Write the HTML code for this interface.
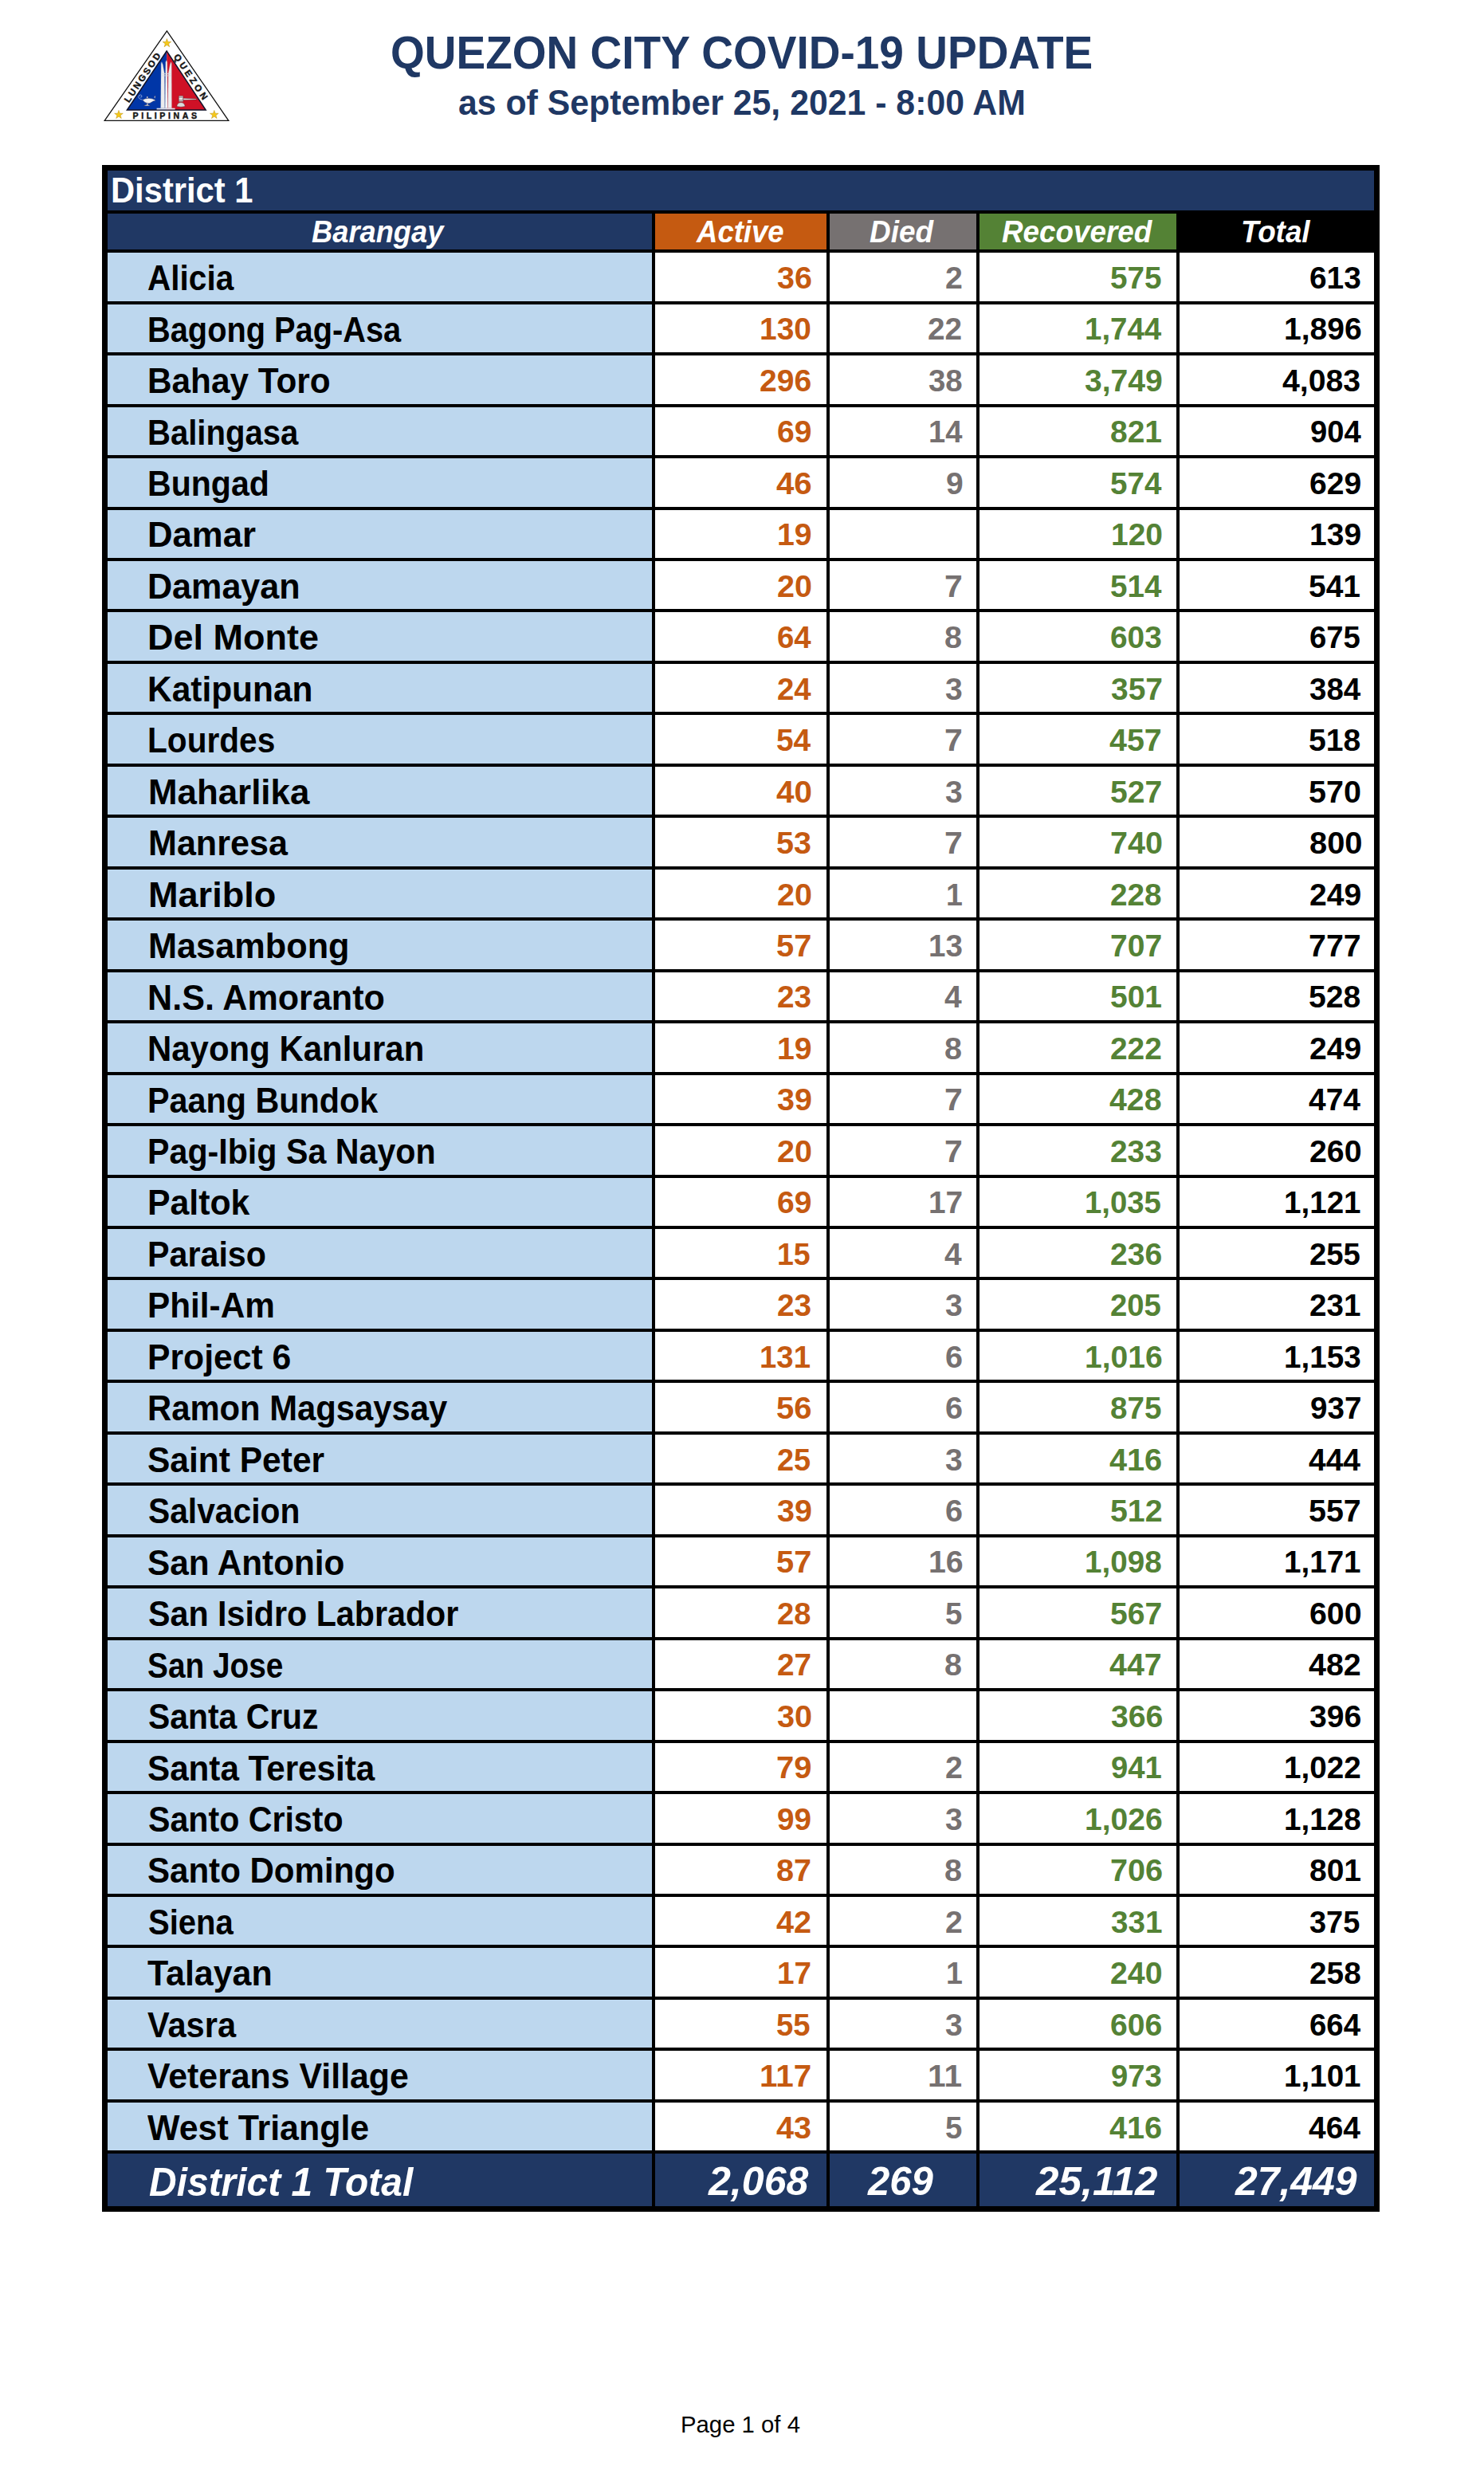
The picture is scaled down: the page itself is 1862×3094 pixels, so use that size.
<!DOCTYPE html>
<html lang="en"><head><meta charset="utf-8"><title>Quezon City COVID-19 Update - District 1</title>
<style>
html,body{margin:0;padding:0;background:#fff}
body{width:1862px;height:3094px;position:relative;overflow:hidden;font-family:"Liberation Sans",sans-serif}
.a{position:absolute}
.t{position:absolute;white-space:nowrap;line-height:1;font-weight:bold;transform-origin:0 50%}
.n{font-size:45.0px;color:#000}
.v{font-size:39.3px}
.o{color:#C55A11}.g{color:#767171}.r{color:#548235}.k{color:#000}
.T{font-size:50.0px;font-style:italic;color:#fff}
.h{font-size:38.8px;font-style:italic;color:#fff}
</style></head><body>
<div class="t" style="font-size:58.2px;color:#1F3864;left:489.98px;top:37px;transform:scaleX(0.9454)">QUEZON CITY COVID-19 UPDATE</div>
<div class="t" style="font-size:44.3px;color:#1F3864;left:574.63px;top:107px;transform:scaleX(0.9659)">as of September 25, 2021 - 8:00 AM</div>
<svg class="a" style="left:120px;top:30px" width="180" height="130" viewBox="120 30 180 130" font-family="Liberation Sans, sans-serif" font-weight="bold">
<polygon points="209.4,38.8 131.2,151.4 286.8,151.4" fill="#fff" stroke="#111" stroke-width="1.3" stroke-linejoin="miter"/>
<polygon points="209.2,64.2 209.2,138 159.6,138" fill="#0036A7"/>
<polygon points="209.2,64.2 209.2,138 258,138" fill="#CF1126"/>
<polygon points="209.2,64 159.4,138 258.2,138" fill="none" stroke="#12122a" stroke-width="1.5"/>
<g fill="#F6C818" stroke="#B8901A" stroke-width="0.5">
<polygon points="0,-5.6 1.32,-1.82 5.33,-1.73 2.13,0.69 3.29,4.53 0,2.24 -3.29,4.53 -2.13,0.69 -5.33,-1.73 -1.32,-1.82" transform="translate(209.4,54.2)"/>
<polygon points="0,-5.6 1.32,-1.82 5.33,-1.73 2.13,0.69 3.29,4.53 0,2.24 -3.29,4.53 -2.13,0.69 -5.33,-1.73 -1.32,-1.82" transform="translate(149,144)"/>
<polygon points="0,-5.6 1.32,-1.82 5.33,-1.73 2.13,0.69 3.29,4.53 0,2.24 -3.29,4.53 -2.13,0.69 -5.33,-1.73 -1.32,-1.82" transform="translate(268.8,144)"/>
</g>
<g fill="#161616" stroke="#161616" stroke-width="0.45">
<text x="206.8" y="148.9" font-size="10.6" text-anchor="middle" textLength="80.5" lengthAdjust="spacing">PILIPINAS</text>
<text transform="translate(181.9,99.6) rotate(-56.1)" x="0" y="0" font-size="11.4" text-anchor="middle" textLength="72" lengthAdjust="spacing">LUNGSOD</text>
<text transform="translate(236.1,98.5) rotate(56.1)" x="0" y="0" font-size="11.4" text-anchor="middle" textLength="66.5" lengthAdjust="spacing">QUEZON</text>
</g>
<g fill="#ececee" stroke="#b9b9c2" stroke-width="0.35">
<polygon points="201.7,135.8 202.2,80 202.9,77.8 204.3,81 206.3,92 206.7,135.8"/>
<polygon points="210.8,135.8 211.2,92 213.4,81 214.6,77.8 215.2,80 215.4,135.8"/>
<polygon points="207.2,135.8 207.9,78 208.8,75.8 209.7,78 210.3,135.8" fill="#f7f7f8"/>
<path d="M203.2,92.6 h11 M203,95 h11.4" stroke="#d9d9e0" stroke-width="0.8" fill="none"/>
<rect x="196.6" y="135.7" width="23" height="1.7" stroke="none" fill="#e4e4ec"/>
</g>
<g fill="#f2f2f4" stroke="#1a1f4a" stroke-width="0.4">
<path d="M178.8,125.2 q3.4,-1.8 8,-1.9 q4.6,0.2 7.6,2 l0.8,0.9 q-3.6,0.6 -5,2 q-2,1.6 -4.6,1.6 q-4,-0.6 -6.8,-4.6z"/>
<path d="M180.4,132.4 q4.2,-1.9 8.2,0 q-4.2,1 -8.2,0z"/>
<path d="M184,130 h1.8 v1.7 h-1.8z" stroke-width="0.25"/>
<path d="M184,123.2 v-2.2 h1.5 v2.2z" stroke-width="0.25"/>
<path d="M194.1,123.8 q-1,-2.4 0.3,-4.4 q1,2.4 -0.3,4.4z" stroke-width="0.25"/>
<path d="M178.8,125.2 q-4.6,-0.6 -5,-3.6 q0.4,-2.8 2.8,-2.6 q2,0.6 1.2,2.6 q-1,1 -1.8,0" fill="none" stroke="#dfe3f6" stroke-width="0.55"/>
</g>
<g fill="#e9e9ea" stroke="#40141c" stroke-width="0.4">
<rect x="224.3" y="120.2" width="5.6" height="7.4" rx="0.9"/>
<path d="M224.3,122 h5.6 M224.3,125.8 h5.6" stroke="#5a3a3e" stroke-width="0.7" fill="none"/>
<path d="M229.9,123.2 l16.6,0.9 l0,1 l-16.6,0.3z"/>
<path d="M221.8,133.4 q0.8,-4.6 5.2,-4.8 q4.4,0.2 5.2,4.8 q-5.2,1.6 -10.4,0z" fill="#dcdcdc"/>
</g>
</svg>
<div class="a" style="left:128px;top:207px;width:1603px;height:2568px;background:#000"></div>
<div class="a" style="left:135px;top:214px;width:1589px;height:50px;background:#203864"></div>
<div class="t" style="font-size:45.2px;color:#fff;left:138.74px;top:216px;transform:scaleX(0.9226)">District 1</div>
<div class="a" style="left:135px;top:268px;width:683px;height:45px;background:#203864"></div>
<div class="a" style="left:822px;top:268px;width:215px;height:45px;background:#C55A11"></div>
<div class="a" style="left:1041px;top:268px;width:184px;height:45px;background:#767171"></div>
<div class="a" style="left:1229px;top:268px;width:247px;height:45px;background:#548235"></div>
<div class="a" style="left:1480px;top:268px;width:244px;height:45px;background:#000"></div>
<div class="a" style="left:135px;top:317px;width:683px;height:61px;background:#BDD7EE"></div>
<div class="a" style="left:822px;top:317px;width:215px;height:61px;background:#fff"></div>
<div class="a" style="left:1041px;top:317px;width:184px;height:61px;background:#fff"></div>
<div class="a" style="left:1229px;top:317px;width:247px;height:61px;background:#fff"></div>
<div class="a" style="left:1480px;top:317px;width:244px;height:61px;background:#fff"></div>
<div class="a" style="left:135px;top:382px;width:683px;height:60px;background:#BDD7EE"></div>
<div class="a" style="left:822px;top:382px;width:215px;height:60px;background:#fff"></div>
<div class="a" style="left:1041px;top:382px;width:184px;height:60px;background:#fff"></div>
<div class="a" style="left:1229px;top:382px;width:247px;height:60px;background:#fff"></div>
<div class="a" style="left:1480px;top:382px;width:244px;height:60px;background:#fff"></div>
<div class="a" style="left:135px;top:446px;width:683px;height:61px;background:#BDD7EE"></div>
<div class="a" style="left:822px;top:446px;width:215px;height:61px;background:#fff"></div>
<div class="a" style="left:1041px;top:446px;width:184px;height:61px;background:#fff"></div>
<div class="a" style="left:1229px;top:446px;width:247px;height:61px;background:#fff"></div>
<div class="a" style="left:1480px;top:446px;width:244px;height:61px;background:#fff"></div>
<div class="a" style="left:135px;top:511px;width:683px;height:60px;background:#BDD7EE"></div>
<div class="a" style="left:822px;top:511px;width:215px;height:60px;background:#fff"></div>
<div class="a" style="left:1041px;top:511px;width:184px;height:60px;background:#fff"></div>
<div class="a" style="left:1229px;top:511px;width:247px;height:60px;background:#fff"></div>
<div class="a" style="left:1480px;top:511px;width:244px;height:60px;background:#fff"></div>
<div class="a" style="left:135px;top:575px;width:683px;height:61px;background:#BDD7EE"></div>
<div class="a" style="left:822px;top:575px;width:215px;height:61px;background:#fff"></div>
<div class="a" style="left:1041px;top:575px;width:184px;height:61px;background:#fff"></div>
<div class="a" style="left:1229px;top:575px;width:247px;height:61px;background:#fff"></div>
<div class="a" style="left:1480px;top:575px;width:244px;height:61px;background:#fff"></div>
<div class="a" style="left:135px;top:640px;width:683px;height:60px;background:#BDD7EE"></div>
<div class="a" style="left:822px;top:640px;width:215px;height:60px;background:#fff"></div>
<div class="a" style="left:1041px;top:640px;width:184px;height:60px;background:#fff"></div>
<div class="a" style="left:1229px;top:640px;width:247px;height:60px;background:#fff"></div>
<div class="a" style="left:1480px;top:640px;width:244px;height:60px;background:#fff"></div>
<div class="a" style="left:135px;top:704px;width:683px;height:60px;background:#BDD7EE"></div>
<div class="a" style="left:822px;top:704px;width:215px;height:60px;background:#fff"></div>
<div class="a" style="left:1041px;top:704px;width:184px;height:60px;background:#fff"></div>
<div class="a" style="left:1229px;top:704px;width:247px;height:60px;background:#fff"></div>
<div class="a" style="left:1480px;top:704px;width:244px;height:60px;background:#fff"></div>
<div class="a" style="left:135px;top:768px;width:683px;height:61px;background:#BDD7EE"></div>
<div class="a" style="left:822px;top:768px;width:215px;height:61px;background:#fff"></div>
<div class="a" style="left:1041px;top:768px;width:184px;height:61px;background:#fff"></div>
<div class="a" style="left:1229px;top:768px;width:247px;height:61px;background:#fff"></div>
<div class="a" style="left:1480px;top:768px;width:244px;height:61px;background:#fff"></div>
<div class="a" style="left:135px;top:833px;width:683px;height:60px;background:#BDD7EE"></div>
<div class="a" style="left:822px;top:833px;width:215px;height:60px;background:#fff"></div>
<div class="a" style="left:1041px;top:833px;width:184px;height:60px;background:#fff"></div>
<div class="a" style="left:1229px;top:833px;width:247px;height:60px;background:#fff"></div>
<div class="a" style="left:1480px;top:833px;width:244px;height:60px;background:#fff"></div>
<div class="a" style="left:135px;top:897px;width:683px;height:61px;background:#BDD7EE"></div>
<div class="a" style="left:822px;top:897px;width:215px;height:61px;background:#fff"></div>
<div class="a" style="left:1041px;top:897px;width:184px;height:61px;background:#fff"></div>
<div class="a" style="left:1229px;top:897px;width:247px;height:61px;background:#fff"></div>
<div class="a" style="left:1480px;top:897px;width:244px;height:61px;background:#fff"></div>
<div class="a" style="left:135px;top:962px;width:683px;height:60px;background:#BDD7EE"></div>
<div class="a" style="left:822px;top:962px;width:215px;height:60px;background:#fff"></div>
<div class="a" style="left:1041px;top:962px;width:184px;height:60px;background:#fff"></div>
<div class="a" style="left:1229px;top:962px;width:247px;height:60px;background:#fff"></div>
<div class="a" style="left:1480px;top:962px;width:244px;height:60px;background:#fff"></div>
<div class="a" style="left:135px;top:1026px;width:683px;height:61px;background:#BDD7EE"></div>
<div class="a" style="left:822px;top:1026px;width:215px;height:61px;background:#fff"></div>
<div class="a" style="left:1041px;top:1026px;width:184px;height:61px;background:#fff"></div>
<div class="a" style="left:1229px;top:1026px;width:247px;height:61px;background:#fff"></div>
<div class="a" style="left:1480px;top:1026px;width:244px;height:61px;background:#fff"></div>
<div class="a" style="left:135px;top:1091px;width:683px;height:60px;background:#BDD7EE"></div>
<div class="a" style="left:822px;top:1091px;width:215px;height:60px;background:#fff"></div>
<div class="a" style="left:1041px;top:1091px;width:184px;height:60px;background:#fff"></div>
<div class="a" style="left:1229px;top:1091px;width:247px;height:60px;background:#fff"></div>
<div class="a" style="left:1480px;top:1091px;width:244px;height:60px;background:#fff"></div>
<div class="a" style="left:135px;top:1155px;width:683px;height:61px;background:#BDD7EE"></div>
<div class="a" style="left:822px;top:1155px;width:215px;height:61px;background:#fff"></div>
<div class="a" style="left:1041px;top:1155px;width:184px;height:61px;background:#fff"></div>
<div class="a" style="left:1229px;top:1155px;width:247px;height:61px;background:#fff"></div>
<div class="a" style="left:1480px;top:1155px;width:244px;height:61px;background:#fff"></div>
<div class="a" style="left:135px;top:1220px;width:683px;height:60px;background:#BDD7EE"></div>
<div class="a" style="left:822px;top:1220px;width:215px;height:60px;background:#fff"></div>
<div class="a" style="left:1041px;top:1220px;width:184px;height:60px;background:#fff"></div>
<div class="a" style="left:1229px;top:1220px;width:247px;height:60px;background:#fff"></div>
<div class="a" style="left:1480px;top:1220px;width:244px;height:60px;background:#fff"></div>
<div class="a" style="left:135px;top:1284px;width:683px;height:61px;background:#BDD7EE"></div>
<div class="a" style="left:822px;top:1284px;width:215px;height:61px;background:#fff"></div>
<div class="a" style="left:1041px;top:1284px;width:184px;height:61px;background:#fff"></div>
<div class="a" style="left:1229px;top:1284px;width:247px;height:61px;background:#fff"></div>
<div class="a" style="left:1480px;top:1284px;width:244px;height:61px;background:#fff"></div>
<div class="a" style="left:135px;top:1349px;width:683px;height:60px;background:#BDD7EE"></div>
<div class="a" style="left:822px;top:1349px;width:215px;height:60px;background:#fff"></div>
<div class="a" style="left:1041px;top:1349px;width:184px;height:60px;background:#fff"></div>
<div class="a" style="left:1229px;top:1349px;width:247px;height:60px;background:#fff"></div>
<div class="a" style="left:1480px;top:1349px;width:244px;height:60px;background:#fff"></div>
<div class="a" style="left:135px;top:1413px;width:683px;height:61px;background:#BDD7EE"></div>
<div class="a" style="left:822px;top:1413px;width:215px;height:61px;background:#fff"></div>
<div class="a" style="left:1041px;top:1413px;width:184px;height:61px;background:#fff"></div>
<div class="a" style="left:1229px;top:1413px;width:247px;height:61px;background:#fff"></div>
<div class="a" style="left:1480px;top:1413px;width:244px;height:61px;background:#fff"></div>
<div class="a" style="left:135px;top:1478px;width:683px;height:60px;background:#BDD7EE"></div>
<div class="a" style="left:822px;top:1478px;width:215px;height:60px;background:#fff"></div>
<div class="a" style="left:1041px;top:1478px;width:184px;height:60px;background:#fff"></div>
<div class="a" style="left:1229px;top:1478px;width:247px;height:60px;background:#fff"></div>
<div class="a" style="left:1480px;top:1478px;width:244px;height:60px;background:#fff"></div>
<div class="a" style="left:135px;top:1542px;width:683px;height:60px;background:#BDD7EE"></div>
<div class="a" style="left:822px;top:1542px;width:215px;height:60px;background:#fff"></div>
<div class="a" style="left:1041px;top:1542px;width:184px;height:60px;background:#fff"></div>
<div class="a" style="left:1229px;top:1542px;width:247px;height:60px;background:#fff"></div>
<div class="a" style="left:1480px;top:1542px;width:244px;height:60px;background:#fff"></div>
<div class="a" style="left:135px;top:1606px;width:683px;height:61px;background:#BDD7EE"></div>
<div class="a" style="left:822px;top:1606px;width:215px;height:61px;background:#fff"></div>
<div class="a" style="left:1041px;top:1606px;width:184px;height:61px;background:#fff"></div>
<div class="a" style="left:1229px;top:1606px;width:247px;height:61px;background:#fff"></div>
<div class="a" style="left:1480px;top:1606px;width:244px;height:61px;background:#fff"></div>
<div class="a" style="left:135px;top:1671px;width:683px;height:60px;background:#BDD7EE"></div>
<div class="a" style="left:822px;top:1671px;width:215px;height:60px;background:#fff"></div>
<div class="a" style="left:1041px;top:1671px;width:184px;height:60px;background:#fff"></div>
<div class="a" style="left:1229px;top:1671px;width:247px;height:60px;background:#fff"></div>
<div class="a" style="left:1480px;top:1671px;width:244px;height:60px;background:#fff"></div>
<div class="a" style="left:135px;top:1735px;width:683px;height:61px;background:#BDD7EE"></div>
<div class="a" style="left:822px;top:1735px;width:215px;height:61px;background:#fff"></div>
<div class="a" style="left:1041px;top:1735px;width:184px;height:61px;background:#fff"></div>
<div class="a" style="left:1229px;top:1735px;width:247px;height:61px;background:#fff"></div>
<div class="a" style="left:1480px;top:1735px;width:244px;height:61px;background:#fff"></div>
<div class="a" style="left:135px;top:1800px;width:683px;height:60px;background:#BDD7EE"></div>
<div class="a" style="left:822px;top:1800px;width:215px;height:60px;background:#fff"></div>
<div class="a" style="left:1041px;top:1800px;width:184px;height:60px;background:#fff"></div>
<div class="a" style="left:1229px;top:1800px;width:247px;height:60px;background:#fff"></div>
<div class="a" style="left:1480px;top:1800px;width:244px;height:60px;background:#fff"></div>
<div class="a" style="left:135px;top:1864px;width:683px;height:61px;background:#BDD7EE"></div>
<div class="a" style="left:822px;top:1864px;width:215px;height:61px;background:#fff"></div>
<div class="a" style="left:1041px;top:1864px;width:184px;height:61px;background:#fff"></div>
<div class="a" style="left:1229px;top:1864px;width:247px;height:61px;background:#fff"></div>
<div class="a" style="left:1480px;top:1864px;width:244px;height:61px;background:#fff"></div>
<div class="a" style="left:135px;top:1929px;width:683px;height:60px;background:#BDD7EE"></div>
<div class="a" style="left:822px;top:1929px;width:215px;height:60px;background:#fff"></div>
<div class="a" style="left:1041px;top:1929px;width:184px;height:60px;background:#fff"></div>
<div class="a" style="left:1229px;top:1929px;width:247px;height:60px;background:#fff"></div>
<div class="a" style="left:1480px;top:1929px;width:244px;height:60px;background:#fff"></div>
<div class="a" style="left:135px;top:1993px;width:683px;height:61px;background:#BDD7EE"></div>
<div class="a" style="left:822px;top:1993px;width:215px;height:61px;background:#fff"></div>
<div class="a" style="left:1041px;top:1993px;width:184px;height:61px;background:#fff"></div>
<div class="a" style="left:1229px;top:1993px;width:247px;height:61px;background:#fff"></div>
<div class="a" style="left:1480px;top:1993px;width:244px;height:61px;background:#fff"></div>
<div class="a" style="left:135px;top:2058px;width:683px;height:60px;background:#BDD7EE"></div>
<div class="a" style="left:822px;top:2058px;width:215px;height:60px;background:#fff"></div>
<div class="a" style="left:1041px;top:2058px;width:184px;height:60px;background:#fff"></div>
<div class="a" style="left:1229px;top:2058px;width:247px;height:60px;background:#fff"></div>
<div class="a" style="left:1480px;top:2058px;width:244px;height:60px;background:#fff"></div>
<div class="a" style="left:135px;top:2122px;width:683px;height:61px;background:#BDD7EE"></div>
<div class="a" style="left:822px;top:2122px;width:215px;height:61px;background:#fff"></div>
<div class="a" style="left:1041px;top:2122px;width:184px;height:61px;background:#fff"></div>
<div class="a" style="left:1229px;top:2122px;width:247px;height:61px;background:#fff"></div>
<div class="a" style="left:1480px;top:2122px;width:244px;height:61px;background:#fff"></div>
<div class="a" style="left:135px;top:2187px;width:683px;height:60px;background:#BDD7EE"></div>
<div class="a" style="left:822px;top:2187px;width:215px;height:60px;background:#fff"></div>
<div class="a" style="left:1041px;top:2187px;width:184px;height:60px;background:#fff"></div>
<div class="a" style="left:1229px;top:2187px;width:247px;height:60px;background:#fff"></div>
<div class="a" style="left:1480px;top:2187px;width:244px;height:60px;background:#fff"></div>
<div class="a" style="left:135px;top:2251px;width:683px;height:61px;background:#BDD7EE"></div>
<div class="a" style="left:822px;top:2251px;width:215px;height:61px;background:#fff"></div>
<div class="a" style="left:1041px;top:2251px;width:184px;height:61px;background:#fff"></div>
<div class="a" style="left:1229px;top:2251px;width:247px;height:61px;background:#fff"></div>
<div class="a" style="left:1480px;top:2251px;width:244px;height:61px;background:#fff"></div>
<div class="a" style="left:135px;top:2316px;width:683px;height:60px;background:#BDD7EE"></div>
<div class="a" style="left:822px;top:2316px;width:215px;height:60px;background:#fff"></div>
<div class="a" style="left:1041px;top:2316px;width:184px;height:60px;background:#fff"></div>
<div class="a" style="left:1229px;top:2316px;width:247px;height:60px;background:#fff"></div>
<div class="a" style="left:1480px;top:2316px;width:244px;height:60px;background:#fff"></div>
<div class="a" style="left:135px;top:2380px;width:683px;height:60px;background:#BDD7EE"></div>
<div class="a" style="left:822px;top:2380px;width:215px;height:60px;background:#fff"></div>
<div class="a" style="left:1041px;top:2380px;width:184px;height:60px;background:#fff"></div>
<div class="a" style="left:1229px;top:2380px;width:247px;height:60px;background:#fff"></div>
<div class="a" style="left:1480px;top:2380px;width:244px;height:60px;background:#fff"></div>
<div class="a" style="left:135px;top:2444px;width:683px;height:61px;background:#BDD7EE"></div>
<div class="a" style="left:822px;top:2444px;width:215px;height:61px;background:#fff"></div>
<div class="a" style="left:1041px;top:2444px;width:184px;height:61px;background:#fff"></div>
<div class="a" style="left:1229px;top:2444px;width:247px;height:61px;background:#fff"></div>
<div class="a" style="left:1480px;top:2444px;width:244px;height:61px;background:#fff"></div>
<div class="a" style="left:135px;top:2509px;width:683px;height:60px;background:#BDD7EE"></div>
<div class="a" style="left:822px;top:2509px;width:215px;height:60px;background:#fff"></div>
<div class="a" style="left:1041px;top:2509px;width:184px;height:60px;background:#fff"></div>
<div class="a" style="left:1229px;top:2509px;width:247px;height:60px;background:#fff"></div>
<div class="a" style="left:1480px;top:2509px;width:244px;height:60px;background:#fff"></div>
<div class="a" style="left:135px;top:2573px;width:683px;height:61px;background:#BDD7EE"></div>
<div class="a" style="left:822px;top:2573px;width:215px;height:61px;background:#fff"></div>
<div class="a" style="left:1041px;top:2573px;width:184px;height:61px;background:#fff"></div>
<div class="a" style="left:1229px;top:2573px;width:247px;height:61px;background:#fff"></div>
<div class="a" style="left:1480px;top:2573px;width:244px;height:61px;background:#fff"></div>
<div class="a" style="left:135px;top:2638px;width:683px;height:60px;background:#BDD7EE"></div>
<div class="a" style="left:822px;top:2638px;width:215px;height:60px;background:#fff"></div>
<div class="a" style="left:1041px;top:2638px;width:184px;height:60px;background:#fff"></div>
<div class="a" style="left:1229px;top:2638px;width:247px;height:60px;background:#fff"></div>
<div class="a" style="left:1480px;top:2638px;width:244px;height:60px;background:#fff"></div>
<div class="a" style="left:135px;top:2702px;width:683px;height:66px;background:#203864"></div>
<div class="a" style="left:822px;top:2702px;width:215px;height:66px;background:#203864"></div>
<div class="a" style="left:1041px;top:2702px;width:184px;height:66px;background:#203864"></div>
<div class="a" style="left:1229px;top:2702px;width:247px;height:66px;background:#203864"></div>
<div class="a" style="left:1480px;top:2702px;width:244px;height:66px;background:#203864"></div>
<div class="t h" style="left:391.30px;top:272px;transform:scaleX(0.9353)">Barangay</div>
<div class="t h" style="left:873.84px;top:272px;transform:scaleX(0.9414)">Active</div>
<div class="t h" style="left:1091.46px;top:272px;transform:scaleX(0.9506)">Died</div>
<div class="t h" style="left:1256.67px;top:272px;transform:scaleX(0.9492)">Recovered</div>
<div class="t h" style="left:1557.44px;top:272px;transform:scaleX(0.9491)">Total</div>
<div class="t n" style="left:184.76px;top:326px;transform:scaleX(0.9017)">Alicia</div>
<div class="t v o" style="left:974.62px;top:329px;transform:scaleX(1.0053)">36</div>
<div class="t v g" style="left:1185.90px;top:329px;transform:scaleX(0.9990)">2</div>
<div class="t v r" style="left:1392.68px;top:329px;transform:scaleX(0.9844)">575</div>
<div class="t v k" style="left:1642.67px;top:329px;transform:scaleX(0.9885)">613</div>
<div class="t n" style="left:185.40px;top:391px;transform:scaleX(0.8839)">Bagong Pag-Asa</div>
<div class="t v o" style="left:953.14px;top:393px;transform:scaleX(0.9913)">130</div>
<div class="t v g" style="left:1164.30px;top:393px;transform:scaleX(0.9867)">22</div>
<div class="t v r" style="left:1361.36px;top:393px;transform:scaleX(0.9788)">1,744</div>
<div class="t v k" style="left:1610.94px;top:393px;transform:scaleX(0.9936)">1,896</div>
<div class="t n" style="left:184.92px;top:455px;transform:scaleX(0.9402)">Bahay Toro</div>
<div class="t v o" style="left:953.37px;top:458px;transform:scaleX(0.9944)">296</div>
<div class="t v g" style="left:1164.93px;top:458px;transform:scaleX(0.9774)">38</div>
<div class="t v r" style="left:1361.20px;top:458px;transform:scaleX(0.9949)">3,749</div>
<div class="t v k" style="left:1609.21px;top:458px;transform:scaleX(0.9984)">4,083</div>
<div class="t n" style="left:185.36px;top:520px;transform:scaleX(0.8903)">Balingasa</div>
<div class="t v o" style="left:974.98px;top:522px;transform:scaleX(0.9949)">69</div>
<div class="t v g" style="left:1165.11px;top:522px;transform:scaleX(0.9690)">14</div>
<div class="t v r" style="left:1393.07px;top:522px;transform:scaleX(0.9920)">821</div>
<div class="t v k" style="left:1643.69px;top:522px;transform:scaleX(0.9704)">904</div>
<div class="t n" style="left:185.16px;top:584px;transform:scaleX(0.9123)">Bungad</div>
<div class="t v o" style="left:974.07px;top:587px;transform:scaleX(1.0235)">46</div>
<div class="t v g" style="left:1186.89px;top:587px;transform:scaleX(0.9944)">9</div>
<div class="t v r" style="left:1392.68px;top:587px;transform:scaleX(0.9816)">574</div>
<div class="t v k" style="left:1642.66px;top:587px;transform:scaleX(0.9944)">629</div>
<div class="t n" style="left:184.65px;top:648px;transform:scaleX(0.9709)">Damar</div>
<div class="t v o" style="left:974.74px;top:651px;transform:scaleX(0.9998)">19</div>
<div class="t v r" style="left:1393.82px;top:651px;transform:scaleX(0.9914)">120</div>
<div class="t v k" style="left:1643.43px;top:651px;transform:scaleX(0.9926)">139</div>
<div class="t n" style="left:184.77px;top:713px;transform:scaleX(0.9576)">Damayan</div>
<div class="t v o" style="left:974.97px;top:716px;transform:scaleX(1.0057)">20</div>
<div class="t v g" style="left:1185.40px;top:716px;transform:scaleX(1.0421)">7</div>
<div class="t v r" style="left:1392.68px;top:716px;transform:scaleX(0.9816)">514</div>
<div class="t v k" style="left:1642.28px;top:716px;transform:scaleX(0.9916)">541</div>
<div class="t n" style="left:185.41px;top:777px;transform:scaleX(0.9997)">Del Monte</div>
<div class="t v o" style="left:975.01px;top:780px;transform:scaleX(0.9773)">64</div>
<div class="t v g" style="left:1184.90px;top:780px;transform:scaleX(1.0059)">8</div>
<div class="t v r" style="left:1393.06px;top:780px;transform:scaleX(0.9881)">603</div>
<div class="t v k" style="left:1642.69px;top:780px;transform:scaleX(0.9743)">675</div>
<div class="t n" style="left:184.90px;top:842px;transform:scaleX(0.9430)">Katipunan</div>
<div class="t v o" style="left:975.01px;top:845px;transform:scaleX(0.9773)">24</div>
<div class="t v g" style="left:1185.57px;top:845px;transform:scaleX(0.9942)">3</div>
<div class="t v r" style="left:1393.70px;top:845px;transform:scaleX(0.9914)">357</div>
<div class="t v k" style="left:1643.32px;top:845px;transform:scaleX(0.9790)">384</div>
<div class="t n" style="left:185.23px;top:906px;transform:scaleX(0.9027)">Lourdes</div>
<div class="t v o" style="left:973.62px;top:909px;transform:scaleX(0.9893)">54</div>
<div class="t v g" style="left:1185.40px;top:909px;transform:scaleX(1.0421)">7</div>
<div class="t v r" style="left:1392.15px;top:909px;transform:scaleX(1.0025)">457</div>
<div class="t v k" style="left:1642.27px;top:909px;transform:scaleX(0.9964)">518</div>
<div class="t n" style="left:185.89px;top:971px;transform:scaleX(0.9745)">Maharlika</div>
<div class="t v o" style="left:974.06px;top:974px;transform:scaleX(1.0281)">40</div>
<div class="t v g" style="left:1185.57px;top:974px;transform:scaleX(0.9942)">3</div>
<div class="t v r" style="left:1392.67px;top:974px;transform:scaleX(0.9944)">527</div>
<div class="t v k" style="left:1642.27px;top:974px;transform:scaleX(1.0050)">570</div>
<div class="t n" style="left:186.04px;top:1035px;transform:scaleX(0.9577)">Manresa</div>
<div class="t v o" style="left:973.59px;top:1038px;transform:scaleX(1.0063)">53</div>
<div class="t v g" style="left:1185.40px;top:1038px;transform:scaleX(1.0421)">7</div>
<div class="t v r" style="left:1392.69px;top:1038px;transform:scaleX(1.0046)">740</div>
<div class="t v k" style="left:1642.65px;top:1038px;transform:scaleX(1.0133)">800</div>
<div class="t n" style="left:185.68px;top:1100px;transform:scaleX(1.0016)">Mariblo</div>
<div class="t v o" style="left:974.97px;top:1103px;transform:scaleX(1.0057)">20</div>
<div class="t v g" style="left:1186.76px;top:1103px;transform:scaleX(0.9537)">1</div>
<div class="t v r" style="left:1393.06px;top:1103px;transform:scaleX(0.9862)">228</div>
<div class="t v k" style="left:1642.66px;top:1103px;transform:scaleX(0.9944)">249</div>
<div class="t n" style="left:186.00px;top:1164px;transform:scaleX(0.9618)">Masambong</div>
<div class="t v o" style="left:973.60px;top:1167px;transform:scaleX(1.0132)">57</div>
<div class="t v g" style="left:1165.08px;top:1167px;transform:scaleX(0.9809)">13</div>
<div class="t v r" style="left:1392.74px;top:1167px;transform:scaleX(0.9933)">707</div>
<div class="t v k" style="left:1642.28px;top:1167px;transform:scaleX(1.0026)">777</div>
<div class="t n" style="left:184.77px;top:1229px;transform:scaleX(0.9584)">N.S. Amoranto</div>
<div class="t v o" style="left:975.01px;top:1231px;transform:scaleX(0.9872)">23</div>
<div class="t v g" style="left:1185.00px;top:1231px;transform:scaleX(0.9902)">4</div>
<div class="t v r" style="left:1392.67px;top:1231px;transform:scaleX(0.9913)">501</div>
<div class="t v k" style="left:1642.27px;top:1231px;transform:scaleX(0.9964)">528</div>
<div class="t n" style="left:184.99px;top:1293px;transform:scaleX(0.9321)">Nayong Kanluran</div>
<div class="t v o" style="left:974.74px;top:1296px;transform:scaleX(0.9998)">19</div>
<div class="t v g" style="left:1184.90px;top:1296px;transform:scaleX(1.0059)">8</div>
<div class="t v r" style="left:1393.06px;top:1296px;transform:scaleX(0.9893)">222</div>
<div class="t v k" style="left:1642.66px;top:1296px;transform:scaleX(0.9944)">249</div>
<div class="t n" style="left:185.12px;top:1358px;transform:scaleX(0.9177)">Paang Bundok</div>
<div class="t v o" style="left:974.62px;top:1360px;transform:scaleX(1.0057)">39</div>
<div class="t v g" style="left:1185.40px;top:1360px;transform:scaleX(1.0421)">7</div>
<div class="t v r" style="left:1392.16px;top:1360px;transform:scaleX(0.9986)">428</div>
<div class="t v k" style="left:1641.71px;top:1360px;transform:scaleX(0.9903)">474</div>
<div class="t n" style="left:185.13px;top:1422px;transform:scaleX(0.9153)">Pag-Ibig Sa Nayon</div>
<div class="t v o" style="left:974.97px;top:1425px;transform:scaleX(1.0057)">20</div>
<div class="t v g" style="left:1185.40px;top:1425px;transform:scaleX(1.0421)">7</div>
<div class="t v r" style="left:1393.06px;top:1425px;transform:scaleX(0.9881)">233</div>
<div class="t v k" style="left:1642.66px;top:1425px;transform:scaleX(0.9993)">260</div>
<div class="t n" style="left:184.82px;top:1486px;transform:scaleX(0.9507)">Paltok</div>
<div class="t v o" style="left:974.98px;top:1489px;transform:scaleX(0.9949)">69</div>
<div class="t v g" style="left:1165.06px;top:1489px;transform:scaleX(0.9870)">17</div>
<div class="t v r" style="left:1361.37px;top:1489px;transform:scaleX(0.9747)">1,035</div>
<div class="t v k" style="left:1610.96px;top:1489px;transform:scaleX(0.9817)">1,121</div>
<div class="t n" style="left:185.12px;top:1551px;transform:scaleX(0.9163)">Paraiso</div>
<div class="t v o" style="left:974.85px;top:1554px;transform:scaleX(0.9539)">15</div>
<div class="t v g" style="left:1185.00px;top:1554px;transform:scaleX(0.9902)">4</div>
<div class="t v r" style="left:1393.05px;top:1554px;transform:scaleX(0.9944)">236</div>
<div class="t v k" style="left:1642.69px;top:1554px;transform:scaleX(0.9743)">255</div>
<div class="t n" style="left:184.90px;top:1615px;transform:scaleX(0.9406)">Phil-Am</div>
<div class="t v o" style="left:975.01px;top:1618px;transform:scaleX(0.9872)">23</div>
<div class="t v g" style="left:1185.57px;top:1618px;transform:scaleX(0.9942)">3</div>
<div class="t v r" style="left:1393.08px;top:1618px;transform:scaleX(0.9740)">205</div>
<div class="t v k" style="left:1642.68px;top:1618px;transform:scaleX(0.9818)">231</div>
<div class="t n" style="left:184.85px;top:1680px;transform:scaleX(0.9484)">Project 6</div>
<div class="t v o" style="left:953.18px;top:1683px;transform:scaleX(0.9757)">131</div>
<div class="t v g" style="left:1185.89px;top:1683px;transform:scaleX(1.0059)">6</div>
<div class="t v r" style="left:1361.33px;top:1683px;transform:scaleX(0.9935)">1,016</div>
<div class="t v k" style="left:1610.96px;top:1683px;transform:scaleX(0.9824)">1,153</div>
<div class="t n" style="left:185.03px;top:1744px;transform:scaleX(0.9285)">Ramon Magsaysay</div>
<div class="t v o" style="left:973.60px;top:1747px;transform:scaleX(1.0179)">56</div>
<div class="t v g" style="left:1185.89px;top:1747px;transform:scaleX(1.0059)">6</div>
<div class="t v r" style="left:1393.08px;top:1747px;transform:scaleX(0.9824)">875</div>
<div class="t v k" style="left:1643.67px;top:1747px;transform:scaleX(0.9818)">937</div>
<div class="t n" style="left:184.94px;top:1809px;transform:scaleX(0.9447)">Saint Peter</div>
<div class="t v o" style="left:975.03px;top:1812px;transform:scaleX(0.9663)">25</div>
<div class="t v g" style="left:1185.57px;top:1812px;transform:scaleX(0.9942)">3</div>
<div class="t v r" style="left:1392.15px;top:1812px;transform:scaleX(1.0086)">416</div>
<div class="t v k" style="left:1641.71px;top:1812px;transform:scaleX(0.9903)">444</div>
<div class="t n" style="left:186.04px;top:1873px;transform:scaleX(0.9059)">Salvacion</div>
<div class="t v o" style="left:974.62px;top:1876px;transform:scaleX(1.0057)">39</div>
<div class="t v g" style="left:1185.89px;top:1876px;transform:scaleX(1.0059)">6</div>
<div class="t v r" style="left:1392.67px;top:1876px;transform:scaleX(0.9998)">512</div>
<div class="t v k" style="left:1642.27px;top:1876px;transform:scaleX(1.0025)">557</div>
<div class="t n" style="left:184.96px;top:1938px;transform:scaleX(0.9398)">San Antonio</div>
<div class="t v o" style="left:973.60px;top:1940px;transform:scaleX(1.0132)">57</div>
<div class="t v g" style="left:1165.04px;top:1940px;transform:scaleX(0.9998)">16</div>
<div class="t v r" style="left:1361.35px;top:1940px;transform:scaleX(0.9835)">1,098</div>
<div class="t v k" style="left:1610.96px;top:1940px;transform:scaleX(0.9817)">1,171</div>
<div class="t n" style="left:186.03px;top:2002px;transform:scaleX(0.9158)">San Isidro Labrador</div>
<div class="t v o" style="left:975.02px;top:2005px;transform:scaleX(0.9733)">28</div>
<div class="t v g" style="left:1185.52px;top:2005px;transform:scaleX(0.9763)">5</div>
<div class="t v r" style="left:1392.67px;top:2005px;transform:scaleX(0.9944)">567</div>
<div class="t v k" style="left:1642.66px;top:2005px;transform:scaleX(0.9993)">600</div>
<div class="t n" style="left:185.06px;top:2067px;transform:scaleX(0.8625)">San Jose</div>
<div class="t v o" style="left:975.00px;top:2069px;transform:scaleX(0.9879)">27</div>
<div class="t v g" style="left:1184.90px;top:2069px;transform:scaleX(1.0059)">8</div>
<div class="t v r" style="left:1392.15px;top:2069px;transform:scaleX(1.0025)">447</div>
<div class="t v k" style="left:1641.69px;top:2069px;transform:scaleX(1.0035)">482</div>
<div class="t n" style="left:186.03px;top:2131px;transform:scaleX(0.9081)">Santa Cruz</div>
<div class="t v o" style="left:974.61px;top:2134px;transform:scaleX(1.0100)">30</div>
<div class="t v r" style="left:1393.68px;top:2134px;transform:scaleX(0.9976)">366</div>
<div class="t v k" style="left:1643.30px;top:2134px;transform:scaleX(0.9975)">396</div>
<div class="t n" style="left:184.97px;top:2196px;transform:scaleX(0.9372)">Santa Teresita</div>
<div class="t v o" style="left:973.57px;top:2198px;transform:scaleX(1.0193)">79</div>
<div class="t v g" style="left:1185.90px;top:2198px;transform:scaleX(0.9990)">2</div>
<div class="t v r" style="left:1394.07px;top:2198px;transform:scaleX(0.9732)">941</div>
<div class="t v k" style="left:1610.96px;top:2198px;transform:scaleX(0.9830)">1,022</div>
<div class="t n" style="left:186.03px;top:2260px;transform:scaleX(0.9140)">Santo Cristo</div>
<div class="t v o" style="left:974.99px;top:2263px;transform:scaleX(0.9866)">99</div>
<div class="t v g" style="left:1185.57px;top:2263px;transform:scaleX(0.9942)">3</div>
<div class="t v r" style="left:1361.33px;top:2263px;transform:scaleX(0.9935)">1,026</div>
<div class="t v k" style="left:1610.96px;top:2263px;transform:scaleX(0.9836)">1,128</div>
<div class="t n" style="left:184.97px;top:2324px;transform:scaleX(0.9345)">Santo Domingo</div>
<div class="t v o" style="left:973.98px;top:2327px;transform:scaleX(1.0085)">87</div>
<div class="t v g" style="left:1184.90px;top:2327px;transform:scaleX(1.0059)">8</div>
<div class="t v r" style="left:1392.70px;top:2327px;transform:scaleX(1.0079)">706</div>
<div class="t v k" style="left:1642.67px;top:2327px;transform:scaleX(0.9922)">801</div>
<div class="t n" style="left:186.05px;top:2389px;transform:scaleX(0.8899)">Siena</div>
<div class="t v o" style="left:974.10px;top:2392px;transform:scaleX(1.0106)">42</div>
<div class="t v g" style="left:1185.90px;top:2392px;transform:scaleX(0.9990)">2</div>
<div class="t v r" style="left:1393.70px;top:2392px;transform:scaleX(0.9830)">331</div>
<div class="t v k" style="left:1643.33px;top:2392px;transform:scaleX(0.9654)">375</div>
<div class="t n" style="left:185.40px;top:2453px;transform:scaleX(0.9542)">Talayan</div>
<div class="t v o" style="left:974.77px;top:2456px;transform:scaleX(0.9870)">17</div>
<div class="t v g" style="left:1186.76px;top:2456px;transform:scaleX(0.9537)">1</div>
<div class="t v r" style="left:1393.05px;top:2456px;transform:scaleX(0.9989)">240</div>
<div class="t v k" style="left:1642.67px;top:2456px;transform:scaleX(0.9867)">258</div>
<div class="t n" style="left:185.40px;top:2518px;transform:scaleX(0.9242)">Vasra</div>
<div class="t v o" style="left:973.63px;top:2521px;transform:scaleX(0.9750)">55</div>
<div class="t v g" style="left:1185.57px;top:2521px;transform:scaleX(0.9942)">3</div>
<div class="t v r" style="left:1393.05px;top:2521px;transform:scaleX(0.9944)">606</div>
<div class="t v k" style="left:1642.69px;top:2521px;transform:scaleX(0.9755)">664</div>
<div class="t n" style="left:185.40px;top:2582px;transform:scaleX(0.9520)">Veterans Village</div>
<div class="t v o" style="left:953.02px;top:2585px;transform:scaleX(1.0296)">117</div>
<div class="t v g" style="left:1163.89px;top:2585px;transform:scaleX(1.0353)">11</div>
<div class="t v r" style="left:1394.07px;top:2585px;transform:scaleX(0.9738)">973</div>
<div class="t v k" style="left:1610.96px;top:2585px;transform:scaleX(0.9817)">1,101</div>
<div class="t n" style="left:185.40px;top:2647px;transform:scaleX(0.9534)">West Triangle</div>
<div class="t v o" style="left:974.10px;top:2650px;transform:scaleX(1.0093)">43</div>
<div class="t v g" style="left:1185.52px;top:2650px;transform:scaleX(0.9763)">5</div>
<div class="t v r" style="left:1392.15px;top:2650px;transform:scaleX(1.0086)">416</div>
<div class="t v k" style="left:1641.71px;top:2650px;transform:scaleX(0.9903)">464</div>
<div class="t T" style="left:187.15px;top:2713px;transform:scaleX(0.9591)">District 1 Total</div>
<div class="t T" style="left:888.78px;top:2712px;transform:scaleX(1.0024)">2,068</div>
<div class="t T" style="left:1089.37px;top:2712px;transform:scaleX(0.9820)">269</div>
<div class="t T" style="left:1300.10px;top:2712px;transform:scaleX(1.0219)">25,112</div>
<div class="t T" style="left:1549.98px;top:2712px;transform:scaleX(0.9979)">27,449</div>
<div class="t" style="font-weight:normal;font-size:29.0px;color:#000;left:853.91px;top:3028px;transform:scaleX(1.0109)">Page 1 of 4</div>
</body></html>
